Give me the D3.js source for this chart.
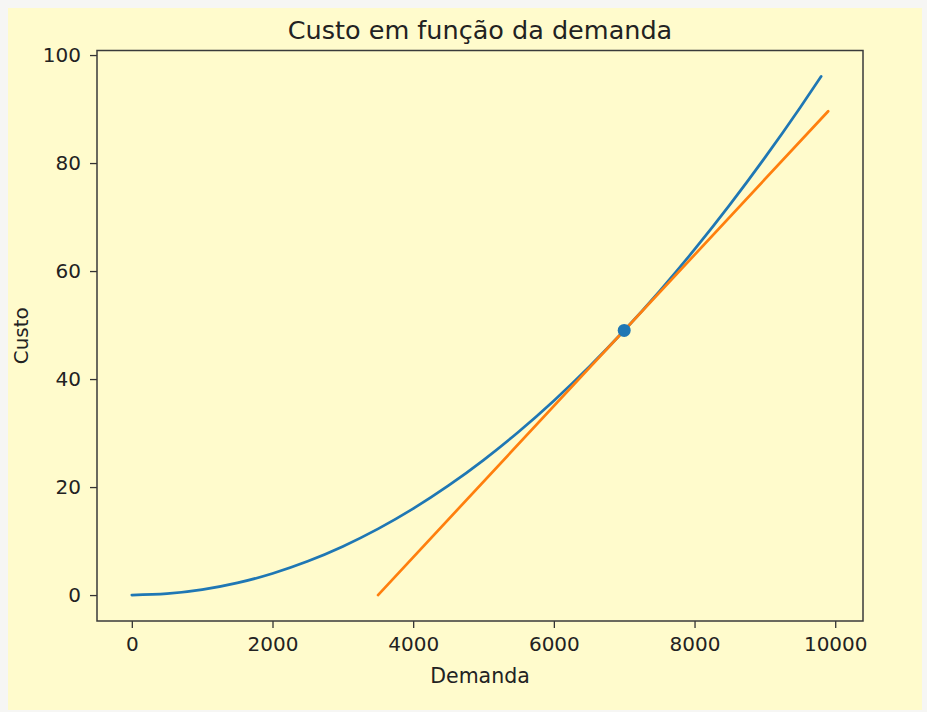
<!DOCTYPE html>
<html>
<head>
<meta charset="utf-8">
<script src="https://cdn.jsdelivr.net/npm/d3@7"></script>
<style>
  body { margin: 0; background: #f6f6f4; }
  text { font-family: "DejaVu Sans", sans-serif; fill: #222; }
</style>
</head>
<body>
<div id="chart"></div>
<script>
// values
var demanda = [0, 500, 1000, 1500, 2000, 2500, 3000, 3500, 4000, 4500, 5000,
               5500, 6000, 6500, 7000, 7500, 8000, 8500, 9000, 9500, 9800];
var custo   = [0, 0.25, 1, 2.25, 4, 6.25, 9, 12.25, 16, 20.25, 25,
               30.25, 36, 42.25, 49, 56.25, 64, 72.25, 81, 90.25, 96.04];
var tangX = [3500, 9900];
var tangY = [0, 89.6];
var ponto = [7000, 49];
var xTicks = [0, 2000, 4000, 6000, 8000, 10000];
var yTicks = [0, 20, 40, 60, 80, 100];

var W = 927, H = 712;
var pLeft = 97, pRight = 863, pTop = 50.5, pBottom = 621;

var svg = d3.select("#chart").append("svg")
    .attr("width", W)
    .attr("height", H);

// yellow figure background
svg.append("rect")
    .attr("x", 8).attr("y", 8)
    .attr("width", 914).attr("height", 702)
    .attr("fill", "#fffbcc");

var x = d3.scaleLinear()
    .domain([-495, 10395])
    .range([pLeft, pRight]);

var y = d3.scaleLinear()
    .domain([-4.802, 100.842])
    .range([pBottom, pTop]);

var curva = demanda.map(function(d, i) { return [d, custo[i]]; });
var tang = tangX.map(function(d, i) { return [d, tangY[i]]; });

var line = d3.line()
    .x(function(d) { return x(d[0]); })
    .y(function(d) { return y(d[1]); })
    .curve(d3.curveMonotoneX);

svg.append("path")
    .datum(curva)
    .attr("d", line)
    .attr("fill", "none")
    .attr("stroke", "#1f77b4")
    .attr("stroke-width", 2.7)
    .attr("stroke-linecap", "round");

svg.append("path")
    .datum(tang)
    .attr("d", line.curve(d3.curveLinear))
    .attr("fill", "none")
    .attr("stroke", "#ff7f0e")
    .attr("stroke-width", 2.7)
    .attr("stroke-linecap", "round");

svg.append("circle")
    .attr("cx", x(ponto[0]))
    .attr("cy", y(ponto[1]))
    .attr("r", 6.5)
    .attr("fill", "#1f77b4");

// axes
var xAxis = svg.append("g")
    .attr("transform", "translate(0," + pBottom + ")")
    .call(d3.axisBottom(x).tickValues(xTicks).tickFormat(d3.format("d")).tickSize(7).tickSizeOuter(0).tickPadding(9));

var yAxis = svg.append("g")
    .attr("transform", "translate(" + pLeft + ",0)")
    .call(d3.axisLeft(y).tickValues(yTicks).tickFormat(d3.format("d")).tickSize(7).tickSizeOuter(0).tickPadding(9));

[xAxis, yAxis].forEach(function(g) {
  g.select(".domain").remove();
  g.selectAll(".tick line").attr("stroke", "#333").attr("stroke-width", 1.3);
  g.selectAll(".tick text").style("font-size", "20px").attr("fill", "#222");
});

// frame
svg.append("rect")
    .attr("x", pLeft).attr("y", pTop)
    .attr("width", pRight - pLeft).attr("height", pBottom - pTop)
    .attr("fill", "none")
    .attr("stroke", "#3a3a3a")
    .attr("stroke-width", 1.5);

svg.append("text")
    .attr("x", (pLeft + pRight) / 2)
    .attr("y", 38.5)
    .attr("text-anchor", "middle")
    .style("font-size", "25.5px")
    .text("Custo em função da demanda");

svg.append("text")
    .attr("x", (pLeft + pRight) / 2)
    .attr("y", 683)
    .attr("text-anchor", "middle")
    .style("font-size", "20.5px")
    .text("Demanda");

svg.append("text")
    .attr("transform", "translate(28," + ((pTop + pBottom) / 2) + ") rotate(-90)")
    .attr("text-anchor", "middle")
    .style("font-size", "20px")
    .text("Custo");
</script>
</body>
</html>
